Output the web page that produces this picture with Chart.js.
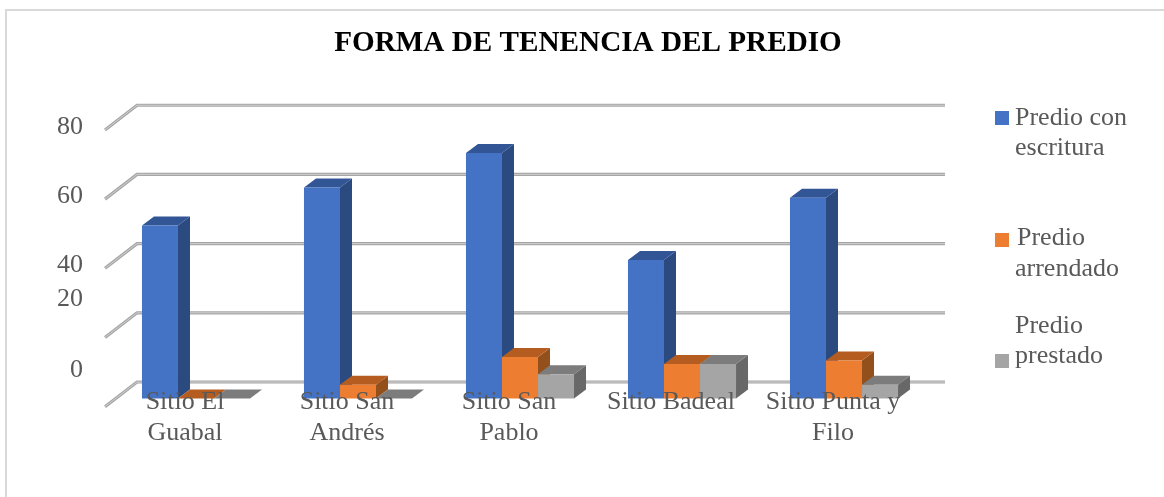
<!DOCTYPE html>
<html>
<head>
<meta charset="utf-8">
<title>Forma de tenencia del predio</title>
<script src="https://cdn.jsdelivr.net/npm/chart.js@4"></script>
<style>
  html, body { margin: 0; background: #fff; }
  #wrap { position: absolute; left: 5px; top: 9px; width: 1159px; height: 488px; border-left: 2px solid #d9d9d9; border-top: 2px solid #d9d9d9; box-sizing: border-box; }
  canvas { position: absolute; left: 0; top: 0; }
</style>
</head>
<body>
<div id="wrap"></div>
<canvas id="chart" width="1164" height="497"></canvas>
<script>
// ====== Data ======
const categories = [["Sitio El", "Guabal"], ["Sitio San", "Andrés"], ["Sitio San", "Pablo"], "Sitio Badeal", ["Sitio Punta y", "Filo"]];
const conEscritura = [50, 61, 71, 40, 58];
const arrendado = [0, 4, 12, 10, 11];
const prestado = [0, 0, 7, 10, 4];
const yTicks = [0, 20, 40, 60, 80];
// =======================================

const SERIF = "'Liberation Serif', 'Times New Roman', serif";
const TEXT = "#595959";

// The 3D look: bars get a top and a side face, grid gets a back wall and a floor edge
const DEPTH = { x: 12, y: 9 };
const WALL = { front: 8.2, back: 16.5, right: 945 };

// Tick labels in the original were moved by hand, so 20 and 0 sit well above their lines
const yLabelShift = { 0: -28, 20: -30, 40: 5, 60: 5, 80: 5 };

const legendItems = [
  { color: "#4472C4", swatchY: 111, lines: [["Predio con", 1015, 118], ["escritura", 1015, 148]] },
  { color: "#ED7D31", swatchY: 233, lines: [["Predio", 1017, 238], ["arrendado", 1015, 269]] },
  { color: "#A5A5A5", swatchY: 354, lines: [["Predio", 1015, 326], ["prestado", 1015, 356]] }
];

function face(ctx, pts, color) {
  ctx.beginPath();
  pts.forEach((p, i) => i ? ctx.lineTo(p[0], p[1]) : ctx.moveTo(p[0], p[1]));
  ctx.closePath();
  ctx.fillStyle = color;
  ctx.fill();
}

const wallGrid = {
  id: "wallGrid",
  beforeDatasetsDraw(chart) {
    const { ctx, scales } = chart;
    const left = chart.chartArea.left;
    ctx.save();
    scales.y.ticks.forEach(t => {
      const y = scales.y.getPixelForValue(t.value);
      const path = [[left - 10, y + WALL.front], [left + 22, y - WALL.back], [WALL.right, y - WALL.back]];
      [[3.2, "#a6a6a6"], [1, "#cfcfcf"]].forEach(([w, c]) => {
        ctx.beginPath();
        path.forEach((p, i) => i ? ctx.lineTo(p[0], p[1]) : ctx.moveTo(p[0], p[1]));
        ctx.lineWidth = w;
        ctx.strokeStyle = c;
        ctx.stroke();
      });
    });
    ctx.restore();
  }
};

// Chart.js paints the last dataset first, here the blue bar has to go under the orange one.
// So the normal pass is skipped and the bars are painted left to right after it.
const barFaces = {
  id: "barFaces",
  beforeDatasetDraw() {
    return false;
  },
  afterDatasetsDraw(chart) {
    const { ctx } = chart;
    chart.data.datasets.forEach((ds, i) => {
      const meta = chart.getDatasetMeta(i);
      ctx.save();
      meta.data.forEach(bar => {
        const { x, y, base, width } = bar.getProps(["x", "y", "base", "width"], true);
        const l = x - width / 2, r = x + width / 2;
        face(ctx, [[r, y], [r + DEPTH.x, y - DEPTH.y], [r + DEPTH.x, base - DEPTH.y], [r, base]], ds.sideColor);
        face(ctx, [[l, y], [l + DEPTH.x, y - DEPTH.y], [r + DEPTH.x, y - DEPTH.y], [r, y]], ds.topColor);
      });
      ctx.restore();
      meta.controller.draw();
    });
  }
};

const sideText = {
  id: "sideText",
  afterDraw(chart) {
    const { ctx, scales } = chart;
    ctx.save();
    ctx.font = "26px " + SERIF;
    ctx.fillStyle = TEXT;
    ctx.textBaseline = "middle";
    // y axis labels
    ctx.textAlign = "right";
    yTicks.forEach(v => {
      ctx.fillText(String(v), 83, scales.y.getPixelForValue(v) + yLabelShift[v]);
    });
    // legend
    ctx.textAlign = "left";
    legendItems.forEach(item => {
      ctx.fillStyle = item.color;
      ctx.fillRect(995, item.swatchY, 14, 14);
      ctx.fillStyle = TEXT;
      item.lines.forEach(l => ctx.fillText(l[0], l[1], l[2]));
    });
    ctx.restore();
  }
};

new Chart(document.getElementById("chart"), {
  type: "bar",
  data: {
    labels: categories,
    datasets: [
      { label: "Predio con escritura", data: conEscritura, backgroundColor: "#4472C4", topColor: "#325596", sideColor: "#2A4A80" },
      { label: "Predio arrendado", data: arrendado, backgroundColor: "#ED7D31", topColor: "#B55D20", sideColor: "#94501B" },
      { label: "Predio prestado", data: prestado, backgroundColor: "#A5A5A5", topColor: "#7C7C7C", sideColor: "#686868" }
    ]
  },
  options: {
    responsive: false,
    animation: false,
    layout: { padding: { left: 12 } },
    categoryPercentage: 0.667,
    barPercentage: 1,
    plugins: {
      legend: { display: false },
      tooltip: { enabled: false },
      title: {
        display: true,
        text: "FORMA DE TENENCIA DEL PREDIO",
        color: "#000",
        font: { family: SERIF, size: 29.2, weight: "bold", lineHeight: 1.2 },
        padding: { top: 26, bottom: 60.7 }
      }
    },
    scales: {
      x: {
        grid: { display: false },
        border: { display: false },
        ticks: {
          z: 1,
          color: TEXT,
          font: { family: SERIF, size: 26, lineHeight: 1.19 },
          maxRotation: 0,
          autoSkip: false,
          labelOffset: -11,
          // mirror keeps the labels from being clipped to the axis box, they sit over the bars
          mirror: true,
          padding: -19
        },
        afterFit(scale) { scale.height = 98.5; }
      },
      y: {
        min: 0,
        max: 80,
        afterBuildTicks(scale) { scale.ticks = yTicks.map(v => ({ value: v })); },
        grid: { display: false },
        border: { display: false },
        ticks: { display: false },
        afterFit(scale) { scale.width = 103; }
      },
      // empty axis on the right, only reserves the legend's room
      spacer: {
        type: "linear",
        position: "right",
        grid: { display: false },
        border: { display: false },
        ticks: { display: false },
        afterFit(scale) { scale.width = 239; }
      }
    }
  },
  plugins: [wallGrid, barFaces, sideText]
});
</script>
</body>
</html>
